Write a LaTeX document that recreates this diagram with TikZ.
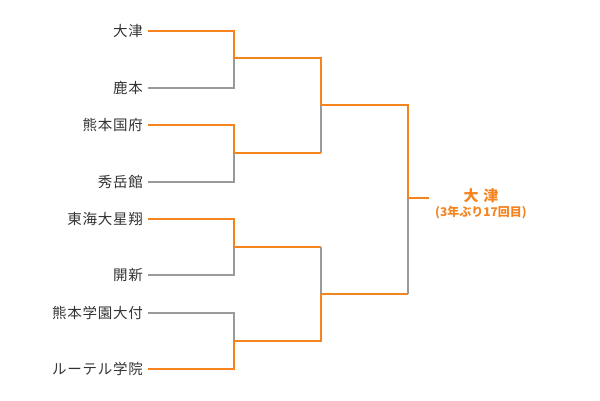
\documentclass[tikz,border=0pt]{standalone}
\usepackage{fontspec}
\setmainfont{Noto Sans CJK JP}
\definecolor{win}{HTML}{F5841F}
\definecolor{lose}{HTML}{9A9A9A}
\definecolor{txt}{HTML}{333333}
\begin{document}
\begin{tikzpicture}[x=1pt,y=-1pt,
  team/.style={anchor=east,inner sep=0pt,text=txt,font=\fontsize{14.5}{16}\selectfont\addfontfeature{LetterSpace=5}},
  wl/.style={draw=win,line width=2pt},
  ll/.style={draw=lose,line width=2pt},
  champ/.style={inner sep=0pt,text=win,font=\fontsize{15}{17}\selectfont\bfseries},
  note/.style={inner sep=0pt,text=win,font=\fontsize{12}{14}\selectfont\bfseries}]
\useasboundingbox (0,0) rectangle (600,400);
% teams
\node[team] (t1) at (143,31) {大津};
\node[team] (t2) at (143,88) {鹿本};
\node[team] (t3) at (143,125) {熊本国府};
\node[team] (t4) at (143,182) {秀岳館};
\node[team] (t5) at (143,219) {東海大星翔};
\node[team] (t6) at (143,275) {開新};
\node[team] (t7) at (143,313) {熊本学園大付};
\node[team] (t8) at (143,369) {ルーテル学院};
% line starts
\foreach \i/\y in {1/31,2/88,3/125,4/182,5/219,6/275,7/313,8/369}{
  \coordinate (s\i) at (148,\y);
  \coordinate (e\i) at (234,\y);
}
% round 1 junctions
\coordinate (j1) at (234,58);
\coordinate (j2) at (234,153);
\coordinate (j3) at (234,247);
\coordinate (j4) at (234,341);
\coordinate (k1) at (321,58);
\coordinate (k2) at (321,153);
\coordinate (k3) at (321,247);
\coordinate (k4) at (321,341);
% round 2 junctions
\coordinate (m1) at (321,105);
\coordinate (m2) at (321,294);
\coordinate (n1) at (408,105);
\coordinate (n2) at (408,294);
% final
\coordinate (f) at (408,198);
\coordinate (g) at (429,198);
% round 1
\draw[wl] (s1) -- (e1) -- (j1);
\draw[ll] (s2) -- (e2) -- (j1);
\draw[wl] (s3) -- (e3) -- (j2);
\draw[ll] (s4) -- (e4) -- (j2);
\draw[wl] (s5) -- (e5) -- (j3);
\draw[ll] (s6) -- (e6) -- (j3);
\draw[ll] (s7) -- (e7) -- (j4);
\draw[wl] (s8) -- (e8) -- (j4);
% round 2
\draw[wl] (j1) -- (k1) -- (m1);
\draw[ll] (k2) -- (m1);
\draw[wl] (j2) -- (k2);
\draw[wl] (j3) -- (k3);
\draw[ll] (k3) -- (m2);
\draw[wl] (j4) -- (k4) -- (m2);
% round 3
\draw[wl] (m1) -- (n1) -- (f);
\draw[ll] (n2) -- (f);
\draw[wl] (m2) -- (n2);
\draw[wl] (f) -- (g);
% champion
\node[champ] (c) at (481,196) {大\hspace{5pt}津};
\node[note] (cn) at (481,213) {(3年ぶり17回目)};
\end{tikzpicture}
\end{document}
